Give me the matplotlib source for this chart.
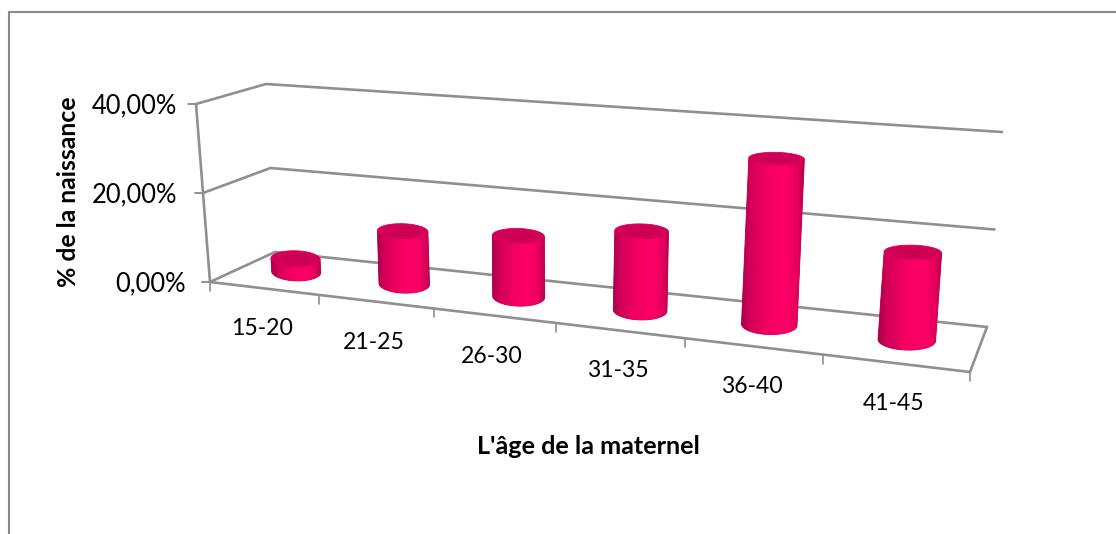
import numpy as np
import matplotlib
matplotlib.use("Agg")
import matplotlib.pyplot as plt
from matplotlib.colors import LinearSegmentedColormap
from matplotlib.patches import Polygon

# Data
categories = ["15-20", "21-25", "26-30", "31-35", "36-40", "41-45"]
birth_share = [3.0, 11.8, 13.3, 16.9, 34.6, 17.8]
y_ticks = [0, 20, 40]
y_tick_labels = ["0,00%", "20,00%", "40,00%"]
y_title = "% de la naissance"
x_title = "L'âge de la maternel"

W, H = 1116, 534
Y_MAX = 40.0
GREY = "#8f8f8f"
FONT = "Lato"

# Corners of the 3D box on the canvas: floor points and the upward vector
# reached at the top of the value axis.
FLOOR = {"fl": (210, 282), "fr": (970, 372), "bl": (275, 252), "br": (987, 327)}
UP = {"fl": (-14, -178), "fr": (18, -205), "bl": (-9, -168), "br": (15, -195)}
PERSPECTIVE = 0.834
BAR_DEPTH = 0.53


def foreshorten(u):
    return u * PERSPECTIVE / (1 + (PERSPECTIVE - 1) * u)


def bilinear(table, s, d):
    front = (1 - s) * np.array(table["fl"], float) + s * np.array(table["fr"], float)
    back = (1 - s) * np.array(table["bl"], float) + s * np.array(table["br"], float)
    return (1 - d) * front + d * back


def project(u, value, d):
    """Map category position u, a value and depth d onto the canvas."""
    s = foreshorten(u)
    return bilinear(FLOOR, s, d) + bilinear(UP, s, d) * value / Y_MAX


fig = plt.figure(figsize=(W / 100, H / 100), dpi=100)
ax = fig.add_axes([0, 0, 1, 1])
ax.set_xlim(0, W)
ax.set_ylim(H, 0)
ax.axis("off")


def line(points, lw=1.9, color=GREY, z=1):
    xs, ys = zip(*points)
    ax.plot(xs, ys, color=color, lw=lw, solid_capstyle="round",
            solid_joinstyle="miter", zorder=z)


# Chart area border: only the top and left edges are visible
ax.plot([8.5, 8.5, W], [H, 12, 12], color="#8a8a8a", lw=1.5, zorder=0,
        solid_joinstyle="miter")

# Walls: value gridlines along the side and back
for v in y_ticks:
    line([project(0, v, 0), project(0, v, 1), project(1, v, 1)])
    tick_end = project(0, v, 0)
    line([tick_end, tick_end + np.array([-8, 0])], lw=1.4)

# Value axis and floor outline
line([project(0, 0, 0), project(0, Y_MAX, 0)])
line([project(0, 0, 0), project(1, 0, 0), project(1, 0, 1)])

# Category ticks and labels below the front edge
n = len(categories)
for i in range(n + 1):
    p = project(i / n, 0, 0)
    line([p, p + np.array([0, 9])], lw=1.2)

for i, name in enumerate(categories):
    p = project((i + 0.5) / n, 0, 0)
    ax.text(p[0] - 1.5, p[1] + 40.5, name, ha="center", va="center",
            family=FONT, fontsize=16.6, color="black")

label_right = {0: 186, 20: 177, 40: 177}
for v, text in zip(y_ticks, y_tick_labels):
    p = project(0, v, 0)
    ax.text(label_right[v], p[1] + 2, text, ha="right", va="center",
            family=FONT, fontsize=18.4, color="black")

ax.text(68, 192, y_title, rotation=90, ha="center", va="center",
        family=FONT, fontsize=17.8, fontweight="bold", color="black")
ax.text(588, 446, x_title, ha="center", va="center",
        family=FONT, fontsize=18.2, fontweight="bold", color="black")

# Cylinders
side_cmap = LinearSegmentedColormap.from_list(
    "side",
    [(0.0, "#a80049"), (0.14, "#d20058"), (0.45, "#f60063"),
     (0.72, "#ff0066"), (0.9, "#e2005c"), (1.0, "#b5004d")],
)
ramp = np.linspace(0, 1, 256).reshape(1, -1)
t = np.linspace(0, 2 * np.pi, 121)
lower = np.linspace(np.pi, 0, 61)  # front half of an ellipse (y grows downward)


def ellipse(c, rx, ry, angles, tilt=0.025):
    x = c[0] + rx * np.cos(angles)
    y = c[1] + ry * np.sin(angles) + tilt * rx * np.cos(angles)
    return np.column_stack([x, y])


for i, value in enumerate(birth_share):
    u = (i + 0.5) / n
    base = project(u, 0, BAR_DEPTH)
    top = project(u, value, BAR_DEPTH)
    s_width = foreshorten((i + 1) / n) - foreshorten(i / n)
    rx = 0.11 * s_width * (FLOOR["fr"][0] - FLOOR["fl"][0]) + 12.6
    ry_base = 9.0 + 0.2 * i
    ry_top = max(6.0, 8.2 - 0.055 * value)

    front = ellipse(base, rx, ry_base, lower)
    left_top = ellipse(top, rx, ry_top, np.array([np.pi]))
    right_top = ellipse(top, rx, ry_top, np.array([0.0]))
    body = np.vstack([left_top, front, right_top])
    body_patch = Polygon(body, closed=True, facecolor="#d8005a",
                         edgecolor="#c00052", lw=0.6, zorder=3)
    ax.add_patch(body_patch)
    xmin, xmax = body[:, 0].min(), body[:, 0].max()
    im = ax.imshow(ramp, cmap=side_cmap, aspect="auto", zorder=3.1,
                   extent=(xmin, xmax, body[:, 1].max(), body[:, 1].min()),
                   interpolation="bilinear")
    im.set_clip_path(body_patch)

    cap = Polygon(ellipse(top, rx, ry_top, t), closed=True, facecolor="#d20056",
                  edgecolor="#dc0059", lw=0.6, zorder=3.2)
    ax.add_patch(cap)
    inner = Polygon(ellipse(top, rx * 0.62, ry_top * 0.62, t), closed=True,
                    facecolor="#c80052", edgecolor="none", alpha=0.6, zorder=3.3)
    ax.add_patch(inner)

ax.set_xlim(0, W)
ax.set_ylim(H, 0)
fig.savefig("out.png", dpi=100, facecolor="white")
